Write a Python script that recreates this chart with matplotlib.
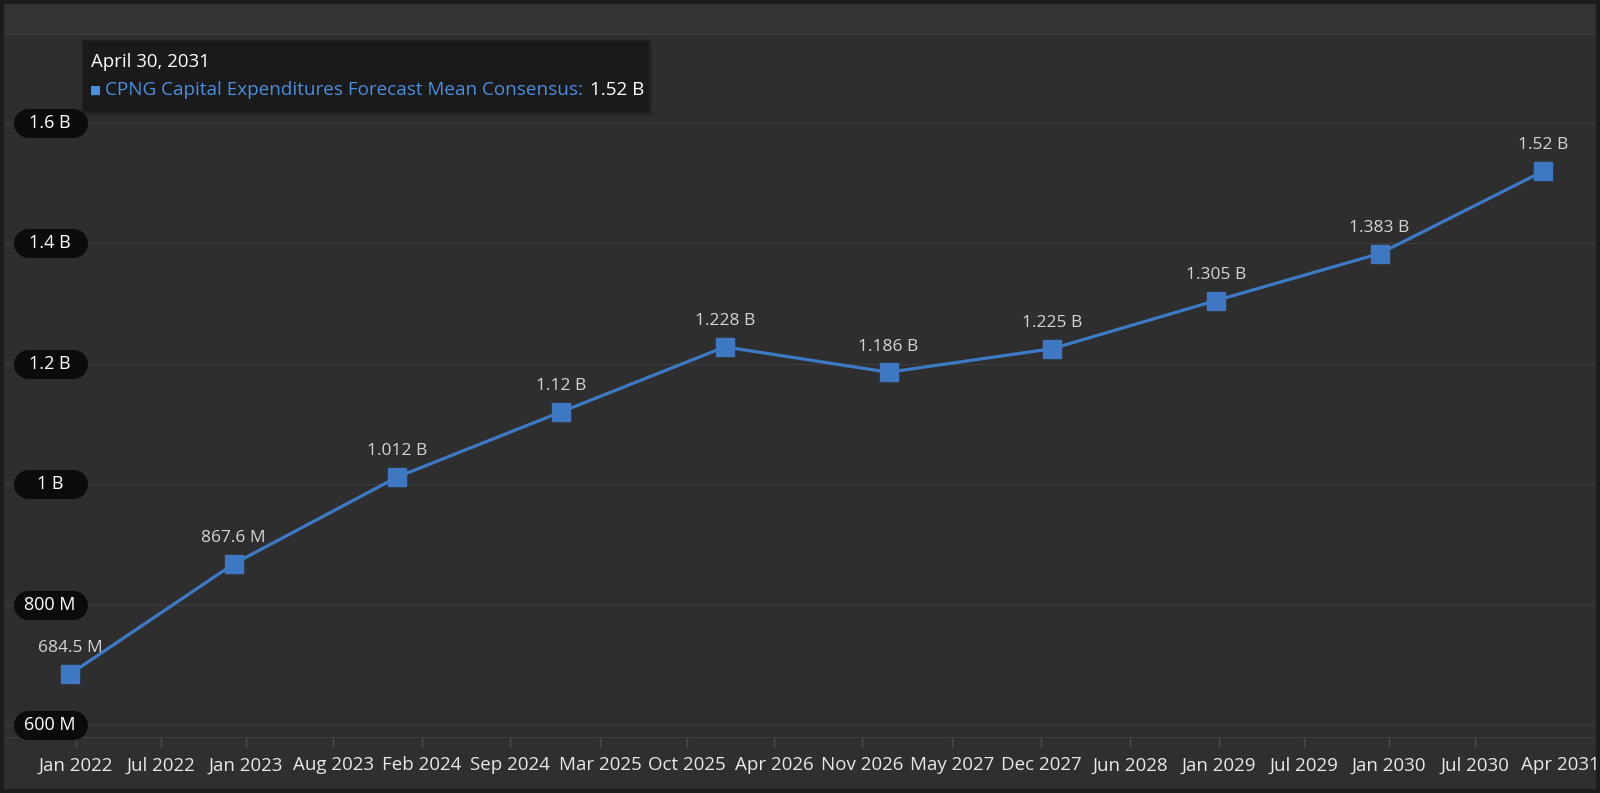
import matplotlib
matplotlib.use("Agg")
import matplotlib.pyplot as plt
from matplotlib.patches import FancyBboxPatch, Rectangle
from matplotlib.transforms import blended_transform_factory

# ---- data ----
periods = ["2021", "2022", "2023", "2024", "2025", "2026", "2027", "2028", "2029", "2030"]
capex_m = [684.5, 867.6, 1012, 1120, 1228, 1186, 1225, 1305, 1383, 1520]
point_labels = ["684.5 M", "867.6 M", "1.012 B", "1.12 B", "1.228 B", "1.186 B",
                "1.225 B", "1.305 B", "1.383 B", "1.52 B"]
xtick_labels = ["Jan 2022", "Jul 2022", "Jan 2023", "Aug 2023", "Feb 2024", "Sep 2024",
                "Mar 2025", "Oct 2025", "Apr 2026", "Nov 2026", "May 2027", "Dec 2027",
                "Jun 2028", "Jan 2029", "Jul 2029", "Jan 2030", "Jul 2030", "Apr 2031"]
ytick_values = [600, 800, 1000, 1200, 1400, 1600]
ytick_labels = ["600 M", "800 M", "1 B", "1.2 B", "1.4 B", "1.6 B"]
tooltip_date = "April 30, 2031"
series_name = "CPNG Capital Expenditures Forecast Mean Consensus:"
tooltip_value = "1.52 B"

# layout (ordinal axis positions of the date ticks)
xtick_pos = [0.037, 0.556, 1.075, 1.607, 2.150, 2.688, 3.238, 3.769, 4.301, 4.838,
             5.388, 5.932, 6.475, 7.019, 7.538, 8.057, 8.583, 9.102]

plt.rcParams['font.family'] = ['Open Sans', 'DejaVu Sans']

W, H = 1600, 793
fig = plt.figure(figsize=(W / 100, H / 100), dpi=100)
fig.patch.set_facecolor('#2f2f2f')

# top band and frame
fig.add_artist(Rectangle((0, 1 - 34 / H), 1, 34 / H, transform=fig.transFigure,
                         facecolor='#333333', edgecolor='none', zorder=0))
fig.add_artist(Rectangle((0.001, 0.002), 0.998, 0.995, transform=fig.transFigure,
                         facecolor='none', edgecolor='#1c1c1c', linewidth=3, zorder=10))

left, right, top, bottom = 3, 1597, 34, 737
ax = fig.add_axes([left / W, 1 - bottom / H, (right - left) / W, (bottom - top) / H])
ax.set_facecolor('#2e2e2e')

color = '#3d7ac6'
x = list(range(len(capex_m)))
ax.plot(x, capex_m, color=color, linewidth=2.3, marker='s', markersize=12.5,
        markerfacecolor='#3f78c2', markeredgecolor='#3f78c2', zorder=3)

for xi, yi, lab in zip(x, capex_m, point_labels):
    ax.annotate(lab, (xi, yi), xytext=(0, 18.5), textcoords='offset points',
                ha='center', va='center', color='#d4d4d4', fontsize=12.5, zorder=4)

ax.set_xlim((left - 70) / 163.7, (right - 70) / 163.7)
ax.set_ylim(580.0, 1747.8)

ax.set_yticks(ytick_values)
ax.set_yticklabels([])
ax.tick_params(axis='y', length=0)
ax.grid(axis='y', color='#3b3b3b', linewidth=1)
ax.set_axisbelow(True)

# y-axis labels as pills
trans = blended_transform_factory(ax.transAxes, ax.transData)
span = right - left
for v, lab in zip(ytick_values, ytick_labels):
    ax.plot([(27.5 - left) / span, (72.5 - left) / span], [v, v], transform=trans,
            color='#0b0b0b', linewidth=20.9, solid_capstyle='round', zorder=5,
            clip_on=False)
    ax.text((50 - left) / span, v, lab, transform=trans, ha='center', va='center',
            color='white', fontsize=13, zorder=6)

ax.set_xticks(xtick_pos)
ax.set_xticklabels(xtick_labels, color='#e8e8e8', fontsize=13.5, fontweight='medium')
ax.tick_params(axis='x', length=8, width=1, color='#4a4a4a', pad=6)
ax.xaxis.get_major_ticks()[-1].tick1line.set_visible(False)

for s in ['left', 'right']:
    ax.spines[s].set_visible(False)
ax.spines['top'].set_color('#3e3e3e')
ax.spines['bottom'].set_color('#3e3e3e')

# tooltip
tx0, ty0, tx1, ty1 = 82, 40, 649, 112
fig.add_artist(FancyBboxPatch((tx0 / W + 0.002, 1 - ty1 / H - 0.004), (tx1 - tx0) / W,
                              (ty1 - ty0) / H, boxstyle='square,pad=0',
                              transform=fig.transFigure, facecolor='#262626',
                              edgecolor='none', zorder=7))
fig.add_artist(FancyBboxPatch((tx0 / W, 1 - ty1 / H), (tx1 - tx0) / W, (ty1 - ty0) / H,
                              boxstyle='square,pad=0', transform=fig.transFigure,
                              facecolor='#1a1a1a', edgecolor='#222222', zorder=8))
fig.text(91 / W, 1 - 62 / H, tooltip_date, color='white', fontsize=13.4,
         ha='left', va='center', zorder=9)
fig.text(90 / W, 1 - 90 / H, "■", color='#4a8ee0', fontsize=8.5,
         ha='left', va='center', zorder=9, family=['DejaVu Sans'])
t1 = fig.text(105 / W, 1 - 90 / H, series_name, color='#4a8ee0', fontsize=13.6,
              ha='left', va='center', zorder=9)
fig.canvas.draw()
bb = t1.get_window_extent()
fig.text((bb.x1 + 7) / W, 1 - 90 / H, tooltip_value, color='white', fontsize=13.6,
         ha='left', va='center', zorder=9)

fig.savefig('out.png', dpi=100, facecolor=fig.get_facecolor())
